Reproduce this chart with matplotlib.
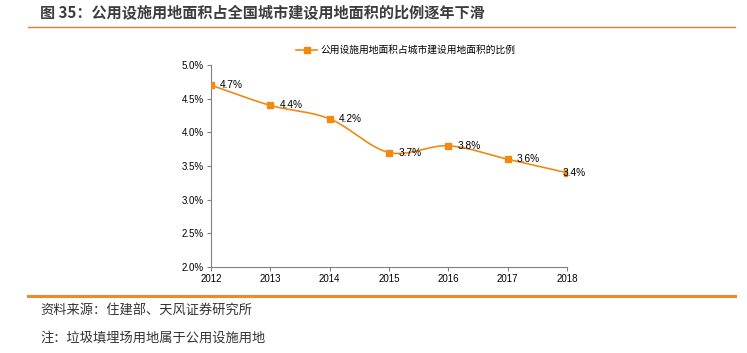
import numpy as np
import matplotlib
matplotlib.use("Agg")
import matplotlib.pyplot as plt
from matplotlib.lines import Line2D

plt.rcParams['font.family'] = ['Noto Sans CJK SC', 'DejaVu Sans']

years = [2012, 2013, 2014, 2015, 2016, 2017, 2018]
share = [4.7, 4.4, 4.2, 3.7, 3.8, 3.6, 3.4]
labels = ["4.7%", "4.4%", "4.2%", "3.7%", "3.8%", "3.6%", "3.4%"]
yticks = [2.0, 2.5, 3.0, 3.5, 4.0, 4.5, 5.0]
series_name = "公用设施用地面积占城市建设用地面积的比例"
title = "图 35：公用设施用地面积占全国城市建设用地面积的比例逐年下滑"
source = "资料来源：住建部、天风证券研究所"
note = "注：垃圾填埋场用地属于公用设施用地"

color = "#F08A12"

def catmull(x, y, n=30):
    x = np.asarray(x, float); y = np.asarray(y, float)
    px = np.concatenate([[2*x[0]-x[1]], x, [2*x[-1]-x[-2]]])
    py = np.concatenate([[2*y[0]-y[1]], y, [2*y[-1]-y[-2]]])
    xs, ys = [], []
    t = np.linspace(0, 1, n)
    for i in range(1, len(px)-2):
        p0, p1, p2, p3 = [np.array([px[j], py[j]]) for j in range(i-1, i+3)]
        c1 = p1 + (p2 - p0) / 6
        c2 = p2 - (p3 - p1) / 6
        b = ((1-t)**3)[:, None]*p1 + (3*(1-t)**2*t)[:, None]*c1 + (3*(1-t)*t**2)[:, None]*c2 + (t**3)[:, None]*p2
        xs.extend(b[:, 0]); ys.extend(b[:, 1])
    return np.array(xs), np.array(ys)

fig = plt.figure(figsize=(7.47, 3.53), dpi=100)
ax = fig.add_axes([0.2825, 0.2436, 0.4766, 0.5723])

sx, sy = catmull(years, share)
ax.plot(sx, sy, color=color, lw=1.2, zorder=2)
ax.plot(years, share, ls='none', marker='s', ms=5, color=color, zorder=3)
for i, (x, y, l) in enumerate(zip(years, share, labels)):
    dx = 6.5 if i < len(years) - 1 else -3
    ax.annotate(l, (x, y), xytext=(dx, 0), textcoords='offset points',
                va='center', ha='left', fontsize=7.3, color='#000000',
                family=['Liberation Sans', 'DejaVu Sans'], zorder=4)

ax.set_xlim(years[0], years[-1])
ax.set_ylim(yticks[0], yticks[-1])
ax.set_xticks(years)
ax.set_yticks(yticks)
ax.set_yticklabels([f"{v:.1f}%" for v in yticks])
for lab in ax.get_xticklabels() + ax.get_yticklabels():
    lab.set_family(['Liberation Sans', 'DejaVu Sans'])
ax.tick_params(axis='both', labelsize=7, length=3, width=0.8, color='#808080', pad=2)
for s in ['top', 'right']:
    ax.spines[s].set_visible(False)
for s in ['left', 'bottom']:
    ax.spines[s].set_color('#808080')
    ax.spines[s].set_linewidth(0.8)

h = Line2D([], [], color=color, marker='s', ms=5, lw=1.2)
fig.legend([h], [series_name], loc='center', bbox_to_anchor=(0.543, 0.858),
           frameon=False, fontsize=7, handlelength=2.2, handletextpad=0.3)

fig.text(0.0535, 0.962, title, fontsize=10.9, fontweight='bold', color='#3d3d3d', va='center', ha='left')
fig.add_artist(Line2D([0.0375, 0.984], [0.923, 0.923], color='#E8792A', lw=1.0))
fig.add_artist(Line2D([0.0375, 0.984], [0.161, 0.161], color='#F5862A', lw=2.2))
fig.text(0.0535, 0.119, source, fontsize=9.5, color='#333333', va='center', ha='left')
fig.text(0.0535, 0.042, note, fontsize=9.5, color='#333333', va='center', ha='left')

fig.savefig("out.png", dpi=100)
